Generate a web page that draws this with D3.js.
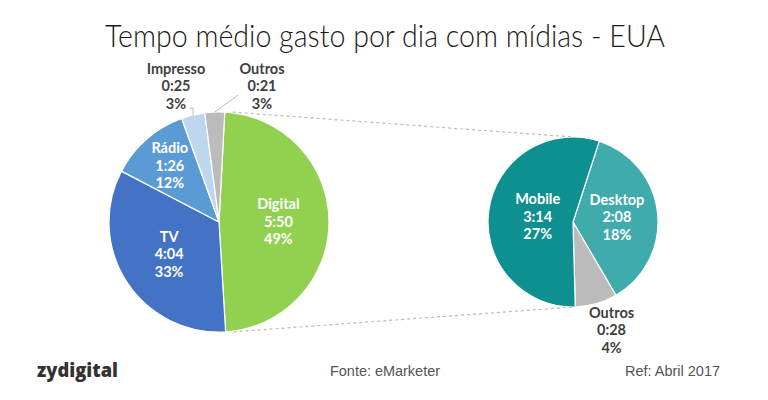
<!DOCTYPE html>
<html>
<head>
<meta charset="utf-8">
<script src="https://cdn.jsdelivr.net/npm/d3@7"></script>
<style>
  html, body { margin: 0; padding: 0; background: #fff; }
  svg { display: block; }
</style>
</head>
<body>
<div id="chart"></div>
<script>
// ---- data ----
const mainCategories = ["Digital", "TV", "Rádio", "Impresso", "Outros"];
const mainTimes = ["5:50", "4:04", "1:26", "0:25", "0:21"];
const mainMinutes = [350, 244, 86, 25, 21];
const mainPercents = ["49%", "33%", "12%", "3%", "3%"];

const subCategories = ["Desktop", "Outros", "Mobile"];
const subTimes = ["2:08", "0:28", "3:14"];
const subMinutes = [128, 28, 194];
const subPercents = ["18%", "4%", "27%"];

const titleText = "Tempo médio gasto por dia com mídias - EUA";
const brandText = "zydigital";
const sourceText = "Fonte: eMarketer";
const refText = "Ref: Abril 2017";

// ---- styling / layout ----
const W = 768, H = 400;
const mainColors = ["#92D050", "#4472C4", "#5B9BD5", "#BDD7EE", "#BBBBBB"];
const subColors = ["#40ABAB", "#BBBBBB", "#0F9090"];
const deg = Math.PI / 180;

const svg = d3.select("#chart").append("svg").attr("width", W).attr("height", H);

// title
svg.append("text")
  .attr("x", 385).attr("y", 47)
  .attr("text-anchor", "middle")
  .attr("font-family", "Lato, 'Open Sans', sans-serif")
  .attr("font-weight", 300)
  .attr("font-size", 31)
  .attr("fill", "#1a1a1a")
  .attr("textLength", 560).attr("lengthAdjust", "spacingAndGlyphs")
  .text(titleText);

// ---- main pie ----
const m = { cx: 219, cy: 222, r: 110 };
const mainPie = d3.pie().sort(null).startAngle(3 * deg).endAngle(3 * deg + 2 * Math.PI);
const mainArcs = mainPie(mainMinutes);
const mainArc = d3.arc().innerRadius(0).outerRadius(m.r);
const gMain = svg.append("g").attr("transform", `translate(${m.cx},${m.cy})`);
gMain.selectAll("path").data(mainArcs).join("path")
  .attr("d", mainArc)
  .attr("fill", (d, i) => mainColors[i])
  .attr("stroke", "#fff").attr("stroke-width", 1.2);

// ---- sub pie ----
const s = { cx: 573, cy: 222, r: 85 };
const subPie = d3.pie().sort(null).startAngle(18 * deg).endAngle(18 * deg + 2 * Math.PI);
const subArcs = subPie(subMinutes);
const subArc = d3.arc().innerRadius(0).outerRadius(s.r);
const gSub = svg.append("g").attr("transform", `translate(${s.cx},${s.cy})`);
gSub.selectAll("path").data(subArcs).join("path")
  .attr("d", subArc)
  .attr("fill", (d, i) => subColors[i])
  .attr("stroke", "#fff").attr("stroke-width", 1.2);

// ---- connector lines (from Digital slice edges to the sub pie) ----
const digital = mainArcs[0];
function pt(c, r, a) { return [c.cx + r * Math.sin(a), c.cy - r * Math.cos(a)]; }
const pTop = pt(m, m.r, digital.startAngle);
const pBot = pt(m, m.r, digital.endAngle);
const qTop = pt(s, s.r, 0);
const qBot = pt(s, s.r, Math.PI);
[[pTop, qTop], [pBot, qBot]].forEach(([a, b]) => {
  svg.append("line")
    .attr("x1", a[0] + 8).attr("y1", a[1])
    .attr("x2", b[0]).attr("y2", b[1])
    .attr("stroke", "#BBBBBB").attr("stroke-width", 1.2)
    .attr("stroke-dasharray", "3,3");
});

// ---- labels ----
const lineH = 17.5;
function label(x, y, lines, color) {
  const t = svg.append("text")
    .attr("text-anchor", "middle")
    .attr("font-family", "Lato, 'Open Sans', sans-serif")
    .attr("font-weight", "bold")
    .attr("font-size", 14.5)
    .attr("fill", color);
  lines.forEach((ln, k) => {
    t.append("tspan").attr("x", x).attr("y", y + (k - 1) * lineH + 5).text(ln);
  });
}

// inner labels of main pie: radius factor per slice
const mainLabelR = [0.54, 0.54, 0.68];
mainArcs.forEach((d, i) => {
  const mid = (d.startAngle + d.endAngle) / 2;
  const lines = [mainCategories[i], mainTimes[i], mainPercents[i]];
  if (i < 3) {
    const p = pt(m, m.r * mainLabelR[i], mid);
    label(p[0], p[1], lines, "#fff");
  } else {
    // outside labels with leader lines
    const side = i === 3 ? -1 : 1;
    const lx = m.cx + side * 43;
    const ly = m.cy - m.r * 1.235;
    label(lx, ly, lines, "#404040");
    const o = pt(m, m.r, mid);
    if (i === 3) {
      svg.append("polyline")
        .attr("points", [[lx + 14, ly + 22], [o[0], ly + 22], [o[0], o[1] + 1]].map(p => p.join(",")).join(" "))
        .attr("fill", "none").attr("stroke", "#BBBBBB").attr("stroke-width", 1);
    } else {
      svg.append("line")
        .attr("x1", o[0]).attr("y1", o[1])
        .attr("x2", lx - 24).attr("y2", ly + 9)
        .attr("stroke", "#BBBBBB").attr("stroke-width", 1);
    }
  }
});

// labels of sub pie
const subLabelR = [0.52, 1.33, 0.42];
subArcs.forEach((d, i) => {
  const mid = (d.startAngle + d.endAngle) / 2;
  const lines = [subCategories[i], subTimes[i], subPercents[i]];
  if (subCategories[i] === "Outros") {
    const p = pt(s, s.r * subLabelR[i], mid - 4 * deg);
    label(p[0], p[1] + 2, lines, "#404040");
  } else {
    const p = pt(s, s.r * subLabelR[i], mid);
    label(p[0], p[1], lines, "#fff");
  }
});

// ---- footer ----
svg.append("text")
  .attr("x", 37).attr("y", 377)
  .attr("font-family", "'Open Sans', sans-serif")
  .attr("font-weight", 800)
  .attr("font-size", 19)
  .attr("fill", "#333")
  .attr("textLength", 81).attr("lengthAdjust", "spacingAndGlyphs")
  .text(brandText);

svg.append("text")
  .attr("x", 330).attr("y", 376)
  .attr("font-family", "'Liberation Sans Narrow', 'Liberation Sans', Arial, sans-serif")
  .attr("font-size", 14.5)
  .attr("fill", "#555")
  .attr("textLength", 110).attr("lengthAdjust", "spacingAndGlyphs")
  .text(sourceText);

svg.append("text")
  .attr("x", 625).attr("y", 376)
  .attr("font-family", "'Liberation Sans Narrow', 'Liberation Sans', Arial, sans-serif")
  .attr("font-size", 14.5)
  .attr("fill", "#555")
  .attr("textLength", 95).attr("lengthAdjust", "spacingAndGlyphs")
  .text(refText);
</script>
</body>
</html>
